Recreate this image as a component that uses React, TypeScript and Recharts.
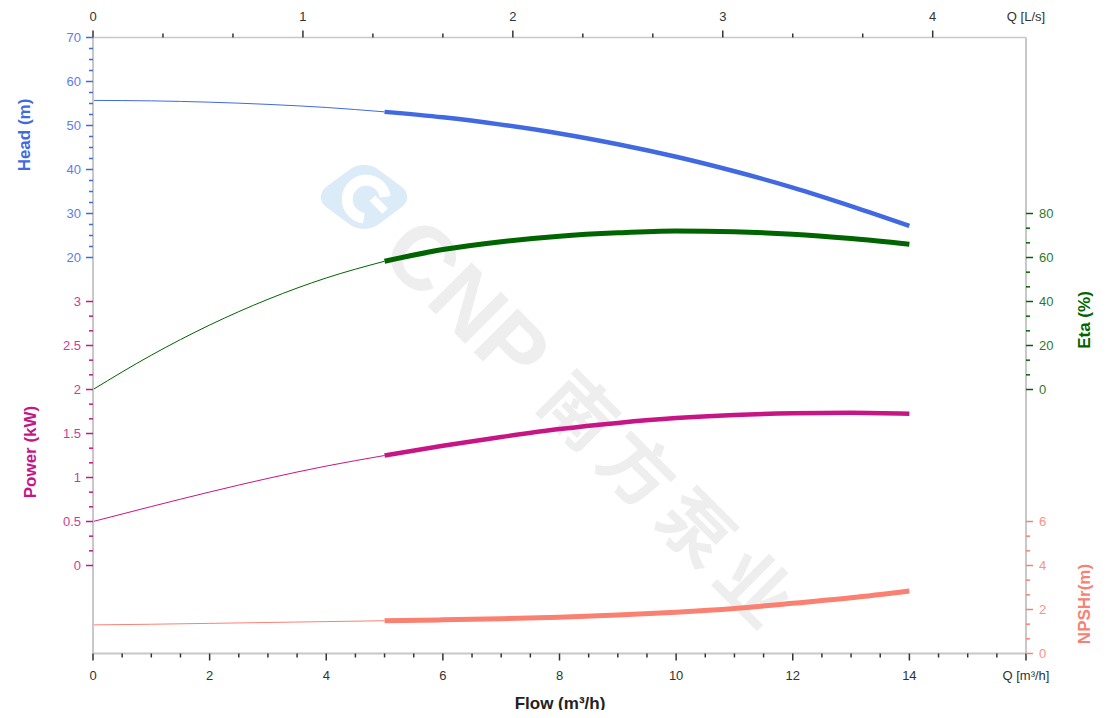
import React from "react";
import { LineChart, Line, XAxis, YAxis, CartesianGrid } from "recharts";

// ---------- data ----------
const flow = [0, 1, 2, 3, 4, 5, 6, 7, 8, 9, 10, 11, 12, 13, 14];
const head = [55.7, 55.6, 55.3, 54.8, 54.1, 53.1, 51.85, 50.2, 48.2, 45.75, 42.9, 39.6, 35.9, 31.7, 27.2];
const eta = [0, 15.6, 29.3, 41.0, 50.7, 58.3, 63.6, 67.2, 69.7, 71.2, 72.0, 71.7, 70.6, 68.6, 66.0];
const power = [0.5, 0.67, 0.835, 0.99, 1.13, 1.25, 1.36, 1.46, 1.55, 1.62, 1.675, 1.71, 1.73, 1.737, 1.725];
const npsh = [1.3, 1.33, 1.37, 1.41, 1.45, 1.49, 1.53, 1.58, 1.65, 1.75, 1.88, 2.05, 2.28, 2.53, 2.84];
const DUTY_START = 5;

// ---------- tick labels ----------
const flowMajorTicks = [0, 2, 4, 6, 8, 10, 12, 14, 16];
const lpsTicks = [0, 1, 2, 3, 4];
const headTicks = [20, 30, 40, 50, 60, 70];
const powerTicks = [0, 0.5, 1, 1.5, 2, 2.5, 3];
const etaTicks = [0, 20, 40, 60, 80];
const npshTicks = [0, 2, 4, 6];
const headGridLines = [-70, -60, -50, -40, -30, -20, -10, 0, 10, 20, 30, 40, 50, 60, 70];

// ---------- axis domains ----------
const FLOW_DOMAIN: [number, number] = [0, 16];
const HEAD_DOMAIN: [number, number] = [-70, 70];
const POWER_DOMAIN: [number, number] = [-1, 6];
const ETA_DOMAIN: [number, number] = [-120, 160];
const NPSH_DOMAIN: [number, number] = [0, 28];
const LPS_TO_M3H = 3.6;

// ---------- colours ----------
const C_HEAD = "#4169E1";
const C_ETA = "#006400";
const C_POWER = "#C71585";
const C_NPSH = "#FA8072";
const C_GRID = "#d3d3d3";
const C_TEXT = "#333333";
const FONT = "Arial, 'Liberation Sans', Helvetica, sans-serif";

// ---------- layout ----------
const W = 1104;
const H = 702;
const MARGIN = { top: 4.5, right: 26, bottom: 26.5, left: 25 };
const Y_AXIS_W = 60;
const TOP_AXIS_H = 25;
const BOTTOM_AXIS_H = 30;
const PL = MARGIN.left + Y_AXIS_W;
const PR = W - MARGIN.right - Y_AXIS_W;
const PT = MARGIN.top + TOP_AXIS_H;
const PB = H - MARGIN.bottom - BOTTOM_AXIS_H;

const mapDomain = (v: number, from: [number, number], to: [number, number]) =>
  to[0] + ((v - from[0]) / (from[1] - from[0])) * (to[1] - to[0]);

type TickSpec = { v: number; label: string; color: string; major: boolean };
const key = (v: number) => v.toFixed(4);

function buildTicks(majors: number[], minorCount: number, color: string, toAxis: (v: number) => number, fmt?: (v: number) => string): TickSpec[] {
  const out: TickSpec[] = [];
  majors.forEach((m, i) => {
    out.push({ v: toAxis(m), label: fmt ? fmt(m) : String(m), color, major: true });
    if (i < majors.length - 1) {
      const n = majors[i + 1];
      for (let k = 1; k <= minorCount; k++) {
        out.push({ v: toAxis(m + ((n - m) * k) / (minorCount + 1)), label: "", color, major: false });
      }
    }
  });
  return out;
}

const leftSpecs = [
  ...buildTicks(headTicks, 3, C_HEAD, (v) => v),
  ...buildTicks(powerTicks, 2, C_POWER, (v) => mapDomain(v, POWER_DOMAIN, HEAD_DOMAIN)),
];
const rightSpecs = [
  ...buildTicks(etaTicks, 2, C_ETA, (v) => v),
  ...buildTicks(npshTicks, 2, C_NPSH, (v) => mapDomain(v, NPSH_DOMAIN, ETA_DOMAIN)),
];
const leftMap = new Map(leftSpecs.map((s) => [key(s.v), s]));
const rightMap = new Map(rightSpecs.map((s) => [key(s.v), s]));

const bottomSpecs: TickSpec[] = buildTicks(flowMajorTicks, 3, C_TEXT, (v) => v, (v) => (v === 16 ? "Q [m³/h]" : String(v)));
const bottomMap = new Map(bottomSpecs.map((s) => [key(s.v), s]));
const topSpecs: TickSpec[] = [
  ...buildTicks(lpsTicks, 2, C_TEXT, (v) => v * LPS_TO_M3H),
  { v: FLOW_DOMAIN[1], label: "Q [L/s]", color: C_TEXT, major: false },
];
const topMap = new Map(topSpecs.map((s) => [key(s.v), s]));

const data = flow.map((q, i) => ({
  q,
  headThin: q <= DUTY_START ? head[i] : null,
  headThick: q >= DUTY_START ? head[i] : null,
  etaThin: q <= DUTY_START ? eta[i] : null,
  etaThick: q >= DUTY_START ? eta[i] : null,
  powerThin: q <= DUTY_START ? power[i] : null,
  powerThick: q >= DUTY_START ? power[i] : null,
  npshThin: q <= DUTY_START ? npsh[i] : null,
  npshThick: q >= DUTY_START ? npsh[i] : null,
}));

const LeftTick = (props: any) => {
  const { y, payload } = props;
  const s = leftMap.get(key(payload.value));
  if (!s) return <g />;
  return (
    <g>
      <line x1={PL - (s.major ? 7 : 4)} x2={PL} y1={y} y2={y} stroke={s.color} strokeWidth={1.5} />
      {s.major && (
        <text x={PL - 12} y={y} dy="0.35em" textAnchor="end" fill={s.color} fontSize={13} fontFamily={FONT} opacity={0.85}>
          {s.label}
        </text>
      )}
    </g>
  );
};

const RightTick = (props: any) => {
  const { y, payload } = props;
  const s = rightMap.get(key(payload.value));
  if (!s) return <g />;
  return (
    <g>
      <line x1={PR} x2={PR + (s.major ? 7 : 4)} y1={y} y2={y} stroke={s.color} strokeWidth={1.5} />
      {s.major && (
        <text x={PR + 13} y={y} dy="0.35em" textAnchor="start" fill={s.color} fontSize={13} fontFamily={FONT} opacity={0.85}>
          {s.label}
        </text>
      )}
    </g>
  );
};

const BottomTick = (props: any) => {
  const { x, payload } = props;
  const s = bottomMap.get(key(payload.value));
  if (!s) return <g />;
  return (
    <g>
      <line x1={x} x2={x} y1={PB} y2={PB + (s.major ? 7 : 4)} stroke={s.color} strokeWidth={1.5} />
      {s.major && (
        <text x={x} y={PB + 22} dy="0.35em" textAnchor="middle" fill={s.color} fontSize={13} fontFamily={FONT}>
          {s.label}
        </text>
      )}
    </g>
  );
};

const TopTick = (props: any) => {
  const { x, payload } = props;
  const s = topMap.get(key(payload.value));
  if (!s) return <g />;
  const isEnd = payload.value === FLOW_DOMAIN[1];
  return (
    <g>
      {!isEnd && <line x1={x} x2={x} y1={PT} y2={PT - (s.major ? 7 : 4)} stroke={s.color} strokeWidth={1.5} />}
      {(s.major || isEnd) && (
        <text x={x} y={PT - 21.5} dy="0.35em" textAnchor="middle" fill={s.color} fontSize={13} fontFamily={FONT}>
          {s.label}
        </text>
      )}
    </g>
  );
};

const Background = () => (
  <svg width={W} height={H + 8} style={{ position: "absolute", left: 0, top: 0, overflow: "visible" }}>
    {/* watermark logo */}
    <g transform="translate(356,189) scale(1.35,1) rotate(45)">
      <rect x={-27} y={-27} width={54} height={54} rx={15} fill="#dcebf8" />
    </g>
    <g transform="translate(358,191) rotate(45)">
      <path d="M 12 -15 A 19 19 0 1 0 12 15" fill="none" stroke="#ffffff" strokeWidth={11} />
      <path d="M 4 -5 L 22 -5" stroke="#ffffff" strokeWidth={8} />
    </g>
    {/* watermark text */}
    <g transform="translate(355,189) rotate(45)">
      <text x={52} y={0} dy="0.35em" fontSize={90} fontWeight="bold" fontFamily={FONT} fill="#eeeeee">
        CNP
      </text>
      <text x={268} y={0} dy="0.35em" fontSize={72} fontWeight="bold" letterSpacing={11} fontFamily="'Noto Sans CJK SC', sans-serif" fill="#eeeeee">
        南方泵业
      </text>
    </g>
    {/* axis titles */}
    <text transform="translate(16.5,127) rotate(-90)" textAnchor="middle" dy="0.35em" fontSize={17} fontWeight="bold" fontFamily={FONT} fill={C_HEAD}>
      Head (m)
    </text>
    <text transform="translate(22,444) rotate(-90)" textAnchor="middle" dy="0.35em" fontSize={17} fontWeight="bold" fontFamily={FONT} fill={C_POWER}>
      Power (kW)
    </text>
    <text transform="translate(1076,312) rotate(-90)" textAnchor="middle" dy="0.35em" fontSize={17} fontWeight="bold" fontFamily={FONT} fill={C_ETA}>
      Eta (%)
    </text>
    <text transform="translate(1076,596) rotate(-90)" textAnchor="middle" dy="0.35em" fontSize={17} fontWeight="bold" fontFamily={FONT} fill={C_NPSH}>
      NPSHr(m)
    </text>
    <text x={552} y={695} textAnchor="middle" dy="0.35em" fontSize={17} fontWeight="bold" fontFamily={FONT} fill="#222">
      Flow (m³/h)
    </text>
  </svg>
);

const verticalGen = (p: any) => {
  const sc = p && p.xAxis && p.xAxis.scale;
  if (typeof sc !== "function") return [];
  return flowMajorTicks.map((v) => sc(v)).filter((v: number) => Number.isFinite(v));
};
const horizontalGen = (p: any) => {
  const sc = p && p.yAxis && p.yAxis.scale;
  if (typeof sc !== "function") return [];
  return headGridLines.map((v) => sc(v)).filter((v: number) => Number.isFinite(v));
};

export default function App() {
  return (
    <div style={{ position: "relative", width: W, height: H }}>
      <Background />
      <LineChart width={W} height={H} data={data} margin={MARGIN}>
        <CartesianGrid
          xAxisId="bottom"
          yAxisId="left"
          stroke={C_GRID}
          strokeWidth={1.2}
          verticalCoordinatesGenerator={verticalGen}
          horizontalCoordinatesGenerator={horizontalGen}
        />
        <XAxis
          xAxisId="bottom"
          type="number"
          dataKey="q"
          domain={FLOW_DOMAIN}
          ticks={bottomSpecs.map((s) => s.v)}
          interval={0}
          allowDataOverflow
          height={BOTTOM_AXIS_H}
          tickLine={false}
          axisLine={{ stroke: "#c8c8c8", strokeWidth: 2 }}
          tick={<BottomTick />}
        />
        <XAxis
          xAxisId="top"
          orientation="top"
          type="number"
          dataKey="q"
          domain={FLOW_DOMAIN}
          ticks={topSpecs.map((s) => s.v)}
          interval={0}
          allowDataOverflow
          height={TOP_AXIS_H}
          tickLine={false}
          axisLine={{ stroke: "#c8c8c8", strokeWidth: 1.5 }}
          tick={<TopTick />}
        />
        <YAxis
          yAxisId="left"
          type="number"
          domain={HEAD_DOMAIN}
          ticks={leftSpecs.map((s) => s.v)}
          interval={0}
          allowDataOverflow
          width={Y_AXIS_W}
          tickLine={false}
          axisLine={{ stroke: "#c8c8c8", strokeWidth: 2 }}
          tick={<LeftTick />}
        />
        <YAxis
          yAxisId="right"
          orientation="right"
          type="number"
          domain={ETA_DOMAIN}
          ticks={rightSpecs.map((s) => s.v)}
          interval={0}
          allowDataOverflow
          width={Y_AXIS_W}
          tickLine={false}
          axisLine={{ stroke: "#c8c8c8", strokeWidth: 2 }}
          tick={<RightTick />}
        />
        <YAxis yAxisId="power" type="number" domain={POWER_DOMAIN} allowDataOverflow hide axisLine={false} tick={false} tickLine={false} width={0} />
        <YAxis yAxisId="npsh" orientation="right" type="number" domain={NPSH_DOMAIN} allowDataOverflow hide axisLine={false} tick={false} tickLine={false} width={0} />

        <Line xAxisId="bottom" yAxisId="left" type="monotone" dataKey="headThin" stroke={C_HEAD} strokeWidth={1} dot={false} activeDot={false} isAnimationActive={false} />
        <Line xAxisId="bottom" yAxisId="left" type="monotone" dataKey="headThick" stroke={C_HEAD} strokeWidth={4.5} dot={false} activeDot={false} isAnimationActive={false} />
        <Line xAxisId="bottom" yAxisId="right" type="monotone" dataKey="etaThin" stroke={C_ETA} strokeWidth={1} dot={false} activeDot={false} isAnimationActive={false} />
        <Line xAxisId="bottom" yAxisId="right" type="monotone" dataKey="etaThick" stroke={C_ETA} strokeWidth={5} dot={false} activeDot={false} isAnimationActive={false} />
        <Line xAxisId="bottom" yAxisId="power" type="monotone" dataKey="powerThin" stroke={C_POWER} strokeWidth={1} dot={false} activeDot={false} isAnimationActive={false} />
        <Line xAxisId="bottom" yAxisId="power" type="monotone" dataKey="powerThick" stroke={C_POWER} strokeWidth={4.5} dot={false} activeDot={false} isAnimationActive={false} />
        <Line xAxisId="bottom" yAxisId="npsh" type="monotone" dataKey="npshThin" stroke={C_NPSH} strokeWidth={1} dot={false} activeDot={false} isAnimationActive={false} />
        <Line xAxisId="bottom" yAxisId="npsh" type="monotone" dataKey="npshThick" stroke={C_NPSH} strokeWidth={5} dot={false} activeDot={false} isAnimationActive={false} />
      </LineChart>
    </div>
  );
}
